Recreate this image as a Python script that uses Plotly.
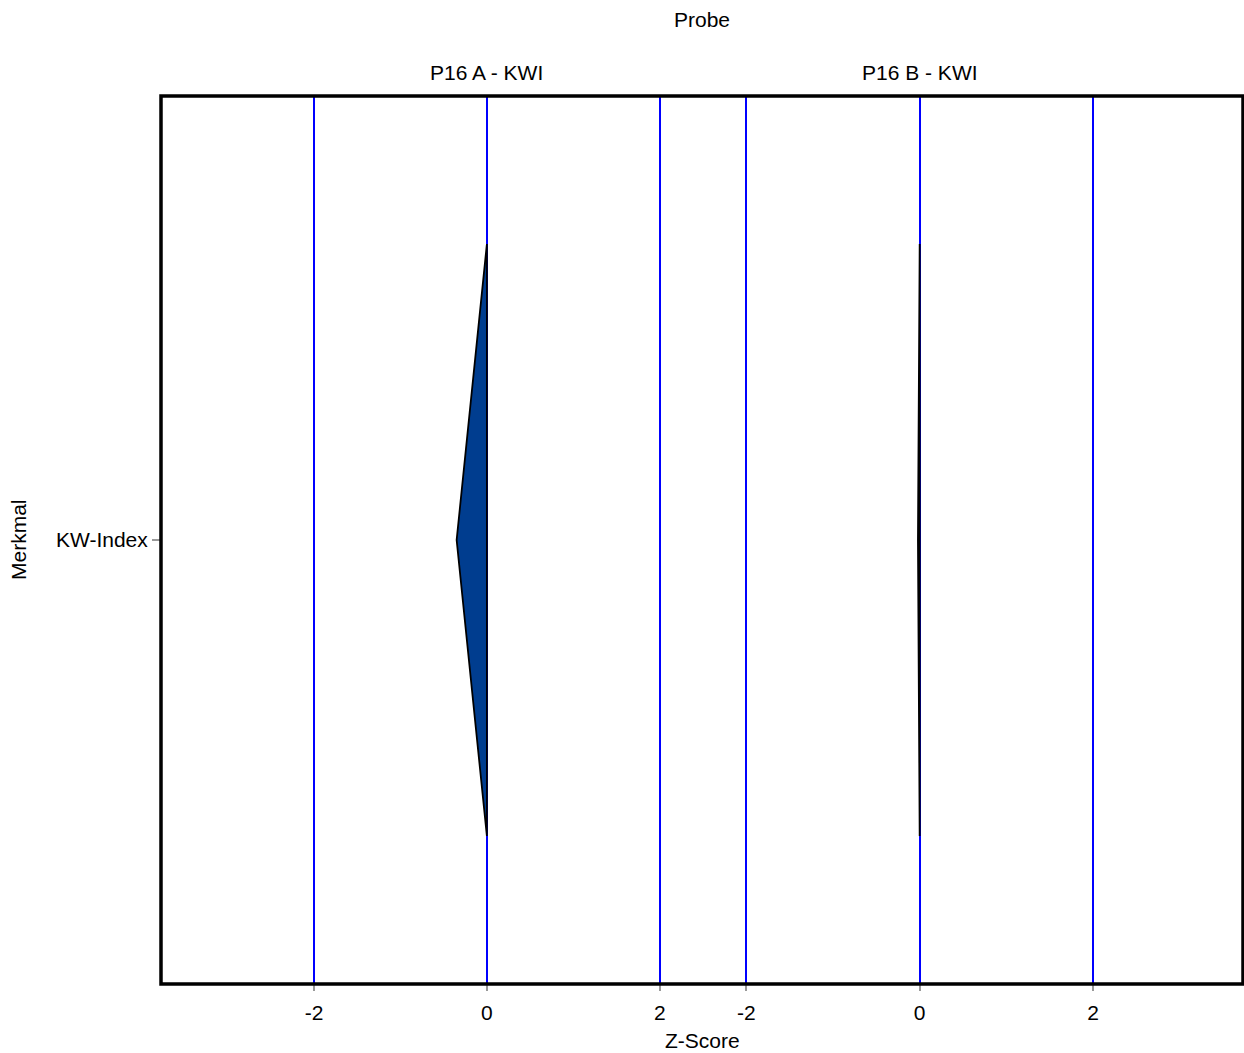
import plotly.graph_objects as go

# ---- data ----
probes = ["P16 A - KWI", "P16 B - KWI"]
merkmal = ["KW-Index"]
zscores = [-0.35, -0.02]
tick_vals = [-2, 0, 2]
tick_text = ["-2", "0", "2"]

FONT = "Liberation Sans, Arial, sans-serif"
FS = 21
FILL = "#003d8f"
HALF = 0.5  # half height of shape in category units

fig = go.Figure()
xaxes = ["x", "x2"]
for i, (p, z) in enumerate(zip(probes, zscores)):
    fig.add_trace(go.Scatter(
        x=[0, z, 0, 0],
        y=[HALF, 0, -HALF, HALF],
        mode="lines",
        fill="toself",
        fillcolor=FILL,
        line=dict(color="black", width=1.8),
        xaxis=xaxes[i], yaxis="y",
        showlegend=False, name=p,
    ))

split = (703 - 161) / 1082
common_x = dict(
    tickmode="array", tickvals=tick_vals, ticktext=tick_text,
    showgrid=True, gridcolor="#0000ff", gridwidth=1.5,
    zeroline=False, showline=False,
    ticks="outside", ticklen=6, tickcolor="#999999", tickwidth=1.5,
    tickfont=dict(family=FONT, size=FS, color="black"),
    ticklabelstandoff=4,
    fixedrange=True,
)
fig.update_layout(
    width=1244, height=1053,
    margin=dict(l=161, r=1, t=96, b=69),
    paper_bgcolor="white", plot_bgcolor="white",
    font=dict(family=FONT, size=FS, color="black"),
    xaxis=dict(domain=[0, split], range=[-3.77, 2.5], anchor="y", **common_x),
    xaxis2=dict(domain=[split, 1], range=[-2.5, 3.73], anchor="y", **common_x),
    yaxis=dict(
        range=[-0.75, 0.75], tickmode="array", tickvals=[0], ticktext=merkmal,
        showgrid=False, zeroline=False, showline=False,
        ticks="outside", ticklen=8, tickcolor="#999999", tickwidth=1.5,
        tickfont=dict(family=FONT, size=FS, color="black"),
        fixedrange=True,
    ),
    shapes=[dict(type="rect", xref="paper", yref="paper", x0=0, x1=1, y0=0, y1=1,
                 line=dict(color="black", width=3.5), layer="above")],
)

fy = 1 + (96 - 72) / 888
for i, p in enumerate(probes):
    fig.add_annotation(text=p, xref=xaxes[i], x=0, yref="paper", y=fy,
                       showarrow=False, xanchor="center", yanchor="middle",
                       font=dict(family=FONT, size=FS, color="black"))

annos = [
    dict(text="Probe", x=0.5, y=1 + (96 - 20) / 888),
    dict(text="Z-Score", x=0.5, y=(984 - 1040) / 888),
]
for a in annos:
    fig.add_annotation(xref="paper", yref="paper", showarrow=False,
                       xanchor="center", yanchor="middle",
                       font=dict(family=FONT, size=FS, color="black"), **a)
fig.add_annotation(text="Merkmal", xref="paper", yref="paper", showarrow=False,
                   x=(18 - 161) / 1082, y=0.5, textangle=-90,
                   xanchor="center", yanchor="middle",
                   font=dict(family=FONT, size=FS, color="black"))

fig.write_html(
    "out.html",
    config={"displayModeBar": False},
    post_script="document.body.style.margin='0';document.body.style.overflow='hidden';",
)
